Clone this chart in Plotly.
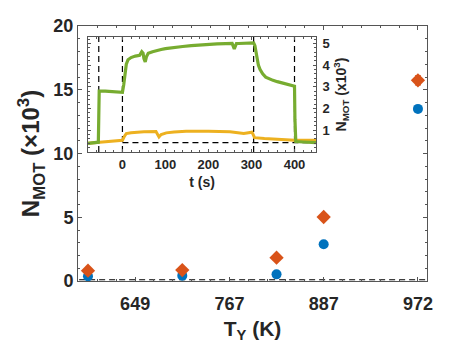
import plotly.graph_objects as go

# main panel: x positions on an index axis, labelled with the yttrium temperature
x_pos = [7.5, 12.5, 17.5, 20, 25]
tick_pos = [10, 15, 20, 25]
tick_lbl = ['649', '767', '887', '972']
n_blue = [0.37, 0.42, 0.52, 2.88, 13.5]
n_orange = [0.81, 0.86, 1.83, 5.02, 15.74]
err_orange = [0.0, 0.0, 0.0, 0.0, 0.35]

# inset: atom number vs time
t_green = [-80, -56, -55, -54, -40, -20, -5, 0, 3, 6, 9, 13, 20, 30, 40, 45, 48, 50, 53, 56,
           60, 70, 80, 90, 100, 120, 140, 160, 180, 200, 220, 240, 255, 260, 262, 265, 270,
           290, 305, 308, 312, 316, 320, 326, 333, 340, 350, 360, 370, 380, 390, 400, 401,
           403, 420, 440, 450]
n_green = [0.40, 0.45, 1.6, 2.80, 2.80, 2.76, 2.73, 2.75, 3.1, 3.6, 4.05, 4.25, 4.35, 4.42,
           4.45, 4.62, 4.55, 4.3, 4.15, 4.4, 4.55, 4.62, 4.68, 4.72, 4.76, 4.82, 4.86, 4.90,
           4.93, 4.97, 4.98, 4.99, 5.0, 4.75, 4.9, 5.0, 5.0, 5.02, 5.03, 4.9, 4.4, 4.0, 3.8,
           3.6, 3.45, 3.38, 3.3, 3.24, 3.18, 3.14, 3.08, 3.03, 1.5, 0.48, 0.46, 0.44, 0.43]
t_yellow = [-80, -40, -10, 0, 4, 9, 20, 32, 50, 78, 82, 85, 90, 102, 120, 148, 200, 250,
            282, 295, 301, 304, 307, 330, 360, 400, 450]
n_yellow = [0.40, 0.46, 0.52, 0.54, 0.7, 0.85, 0.89, 0.91, 0.93, 0.94, 0.8, 0.69, 0.8, 0.88,
            0.92, 0.95, 0.96, 0.93, 0.85, 0.88, 0.91, 0.8, 0.66, 0.62, 0.58, 0.54, 0.54]
t_marks = [-55, 0, 305, 400]
baseline = 0.43

font = 'Liberation Sans, Arial, sans-serif'
axcol = '#555555'
dash = '6px,4px'

fig = go.Figure()

fig.add_trace(go.Scatter(x=[min(x_pos) - 1, max(x_pos) + 1], y=[0.1, 0.1], mode='lines',
                         line=dict(color='black', width=1.2, dash=dash),
                         showlegend=False, hoverinfo='skip'))
fig.add_trace(go.Scatter(x=x_pos, y=n_blue, mode='markers',
                         marker=dict(color='#0072BD', size=10, symbol='circle'), showlegend=False))
fig.add_trace(go.Scatter(x=x_pos, y=n_orange, mode='markers',
                         marker=dict(color='#D95319', size=11, symbol='diamond'),
                         error_y=dict(type='data', array=err_orange, color='#D95319',
                                      thickness=1.2, width=3),
                         showlegend=False))

# inset traces
for tm in t_marks:
    fig.add_trace(go.Scatter(x=[tm, tm], y=[0, 5.3], mode='lines', xaxis='x2', yaxis='y2',
                             line=dict(color='black', width=1.2, dash=dash),
                             showlegend=False, hoverinfo='skip'))
fig.add_trace(go.Scatter(x=[0, 450], y=[baseline, baseline], mode='lines', xaxis='x2', yaxis='y2',
                         line=dict(color='black', width=1.2, dash=dash),
                         showlegend=False, hoverinfo='skip'))
fig.add_trace(go.Scatter(x=t_yellow, y=n_yellow, mode='lines', xaxis='x2', yaxis='y2',
                         line=dict(color='#EDB120', width=3), showlegend=False))
fig.add_trace(go.Scatter(x=t_green, y=n_green, mode='lines', xaxis='x2', yaxis='y2',
                         line=dict(color='#77AC30', width=3.2), showlegend=False))

# page body keeps its default 8px margin, so the figure is offset by 8px
fig.update_layout(
    width=472, height=354,
    margin=dict(l=70, r=53, t=18, b=81),
    paper_bgcolor='white', plot_bgcolor='white',
    font=dict(family=font, color='#262626'),
    xaxis=dict(range=[6.97, 25.48], tickvals=tick_pos, ticktext=tick_lbl, automargin=False,
               tickfont=dict(size=18, weight='bold'), ticklabelstandoff=6,
               showgrid=False, zeroline=False, showline=True, linecolor=axcol, mirror='ticks',
               ticks='inside', ticklen=4, tickcolor=axcol,
               minor=dict(dtick=1, tick0=0, ticks='inside', ticklen=2, tickcolor=axcol),
               title=dict(text='T<sub>Y</sub> (K)', font=dict(size=21, weight='bold'), standoff=8)),
    yaxis=dict(range=[0, 20], tickvals=[0, 5, 10, 15, 20], automargin=False,
               tickfont=dict(size=18, weight='bold'),
               showgrid=False, zeroline=False, showline=True, linecolor=axcol, mirror='ticks',
               ticks='inside', ticklen=4, tickcolor=axcol,
               minor=dict(dtick=1, ticks='inside', ticklen=2, tickcolor=axcol),
               title=dict(text='N<sub>MOT</sub> (\u00d710<sup>3</sup>)',
                          font=dict(size=24, weight='bold'), standoff=6)),
    xaxis2=dict(domain=[0.0287, 0.682], anchor='y2', range=[-80, 450], automargin=False,
                tickvals=[0, 100, 200, 300, 400], tickfont=dict(size=13, weight='bold'),
                showgrid=False, zeroline=False, showline=True, linecolor=axcol, mirror='ticks',
                ticks='inside', ticklen=3, tickcolor=axcol,
                minor=dict(dtick=20, ticks='inside', ticklen=2, tickcolor=axcol),
                title=dict(text='t (s)', font=dict(size=14, weight='bold'), standoff=6)),
    yaxis2=dict(domain=[0.506, 0.957], anchor='x2', side='right', range=[0, 5.3], automargin=False,
                tickvals=[1, 2, 3, 4, 5], tickfont=dict(size=13, weight='bold'), ticklabelstandoff=3,
                showgrid=False, zeroline=False, showline=True, linecolor=axcol, mirror='ticks',
                ticks='inside', ticklen=3, tickcolor=axcol,
                minor=dict(dtick=0.2, ticks='inside', ticklen=2, tickcolor=axcol),
                title=dict(text='N<sub>MOT</sub> (x10<sup>3</sup>)',
                           font=dict(size=14, weight='bold'), standoff=6)),
)

fig.write_html("out.html")
